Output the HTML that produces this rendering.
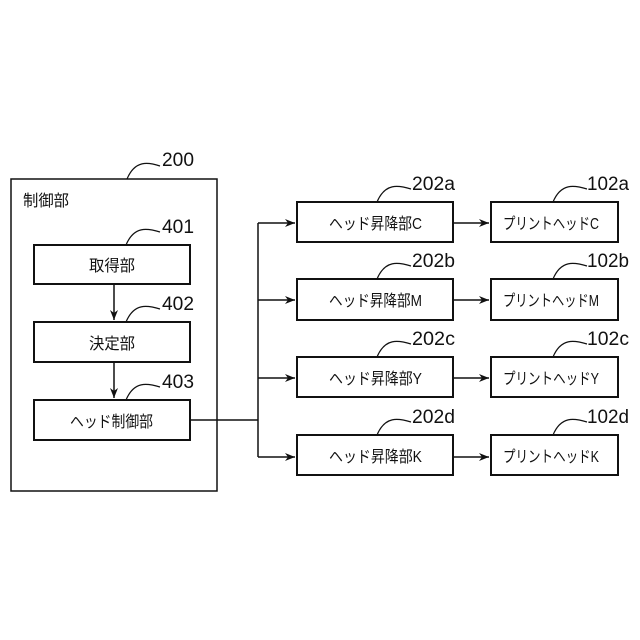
<!DOCTYPE html>
<html><head><meta charset="utf-8"><style>
html,body{margin:0;padding:0;background:#fff;}
svg{display:block;}
text{font-family:"Liberation Sans","Noto Sans CJK JP",sans-serif;fill:#111;}
</style></head><body>
<svg width="640" height="640" viewBox="0 0 640 640" xmlns="http://www.w3.org/2000/svg">
<defs><marker id="a" markerWidth="10" markerHeight="8" refX="10" refY="4" orient="auto" markerUnits="userSpaceOnUse"><path d="M0,0 L10,4 L0,8 L3,4 z" fill="#111"/></marker></defs>
<g fill="none" stroke="#111" stroke-width="2">
<rect x="11" y="179" width="206" height="312" stroke-width="1.5"/>
<rect x="34" y="245" width="156" height="39"/>
<rect x="34" y="322" width="156" height="40"/>
<rect x="34" y="400" width="156" height="40"/>
<rect x="297" y="202" width="156" height="40"/>
<rect x="297" y="279" width="156" height="41"/>
<rect x="297" y="357" width="156" height="40"/>
<rect x="297" y="435" width="156" height="40"/>
<rect x="491" y="202" width="127" height="40"/>
<rect x="491" y="279" width="127" height="41"/>
<rect x="491" y="357" width="127" height="40"/>
<rect x="491" y="435" width="127" height="40"/>
</g>
<g fill="none" stroke="#111" stroke-width="1.5">
<line x1="114" y1="284" x2="114" y2="320" marker-end="url(#a)"/>
<line x1="114" y1="362" x2="114" y2="398" marker-end="url(#a)"/>
<polyline points="190,420 258,420"/>
<line x1="258" y1="223" x2="258" y2="457"/>
<line x1="258" y1="223" x2="295" y2="223" marker-end="url(#a)"/>
<line x1="258" y1="300" x2="295" y2="300" marker-end="url(#a)"/>
<line x1="258" y1="378" x2="295" y2="378" marker-end="url(#a)"/>
<line x1="258" y1="457" x2="295" y2="457" marker-end="url(#a)"/>
<line x1="453" y1="223" x2="489" y2="223" marker-end="url(#a)"/>
<line x1="453" y1="300" x2="489" y2="300" marker-end="url(#a)"/>
<line x1="453" y1="378" x2="489" y2="378" marker-end="url(#a)"/>
<line x1="453" y1="457" x2="489" y2="457" marker-end="url(#a)"/>
<g stroke-width="1.2">
<path d="M127,179 C135,160 148,162 160,166"/>
<path d="M126,245 C134,226 147,228 160,232"/>
<path d="M126,322 C134,303 147,305 160,309"/>
<path d="M126,400 C134,381 147,383 160,387"/>
<path d="M377,202 C385,183 398,185 411,189"/>
<path d="M377,279 C385,260 398,262 411,266"/>
<path d="M377,357 C385,338 398,340 411,344"/>
<path d="M377,435 C385,416 398,418 411,422"/>
<path d="M553,202 C561,183 574,185 587,189"/>
<path d="M553,279 C561,260 574,262 587,266"/>
<path d="M553,357 C561,338 574,340 587,344"/>
<path d="M553,435 C561,416 574,418 587,422"/>
</g>
</g>
<g font-size="19">
<text x="162" y="166" textLength="32" lengthAdjust="spacingAndGlyphs">200</text>
<text x="162" y="233" textLength="32" lengthAdjust="spacingAndGlyphs">401</text>
<text x="162" y="310" textLength="32" lengthAdjust="spacingAndGlyphs">402</text>
<text x="162" y="388" textLength="32" lengthAdjust="spacingAndGlyphs">403</text>
<text x="412" y="190" textLength="43" lengthAdjust="spacingAndGlyphs">202a</text>
<text x="412" y="267" textLength="43" lengthAdjust="spacingAndGlyphs">202b</text>
<text x="412" y="345" textLength="43" lengthAdjust="spacingAndGlyphs">202c</text>
<text x="412" y="423" textLength="43" lengthAdjust="spacingAndGlyphs">202d</text>
<text x="587" y="190" textLength="42" lengthAdjust="spacingAndGlyphs">102a</text>
<text x="587" y="267" textLength="42" lengthAdjust="spacingAndGlyphs">102b</text>
<text x="587" y="345" textLength="42" lengthAdjust="spacingAndGlyphs">102c</text>
<text x="587" y="423" textLength="42" lengthAdjust="spacingAndGlyphs">102d</text>
</g>
<g font-size="16">
<text x="23" y="206" textLength="46" lengthAdjust="spacingAndGlyphs">制御部</text>
<text x="89" y="271" textLength="46" lengthAdjust="spacingAndGlyphs">取得部</text>
<text x="89" y="349" textLength="46" lengthAdjust="spacingAndGlyphs">決定部</text>
<text x="70" y="427" textLength="83" lengthAdjust="spacingAndGlyphs">ヘッド制御部</text>
<text x="329" y="229" textLength="93" lengthAdjust="spacingAndGlyphs">ヘッド昇降部C</text>
<text x="329" y="306" textLength="93" lengthAdjust="spacingAndGlyphs">ヘッド昇降部M</text>
<text x="329" y="384" textLength="93" lengthAdjust="spacingAndGlyphs">ヘッド昇降部Y</text>
<text x="329" y="462" textLength="93" lengthAdjust="spacingAndGlyphs">ヘッド昇降部K</text>
<text x="503" y="229" textLength="96" lengthAdjust="spacingAndGlyphs">プリントヘッドC</text>
<text x="503" y="306" textLength="96" lengthAdjust="spacingAndGlyphs">プリントヘッドM</text>
<text x="503" y="384" textLength="96" lengthAdjust="spacingAndGlyphs">プリントヘッドY</text>
<text x="503" y="462" textLength="96" lengthAdjust="spacingAndGlyphs">プリントヘッドK</text>
</g>
</svg>
</body></html>
